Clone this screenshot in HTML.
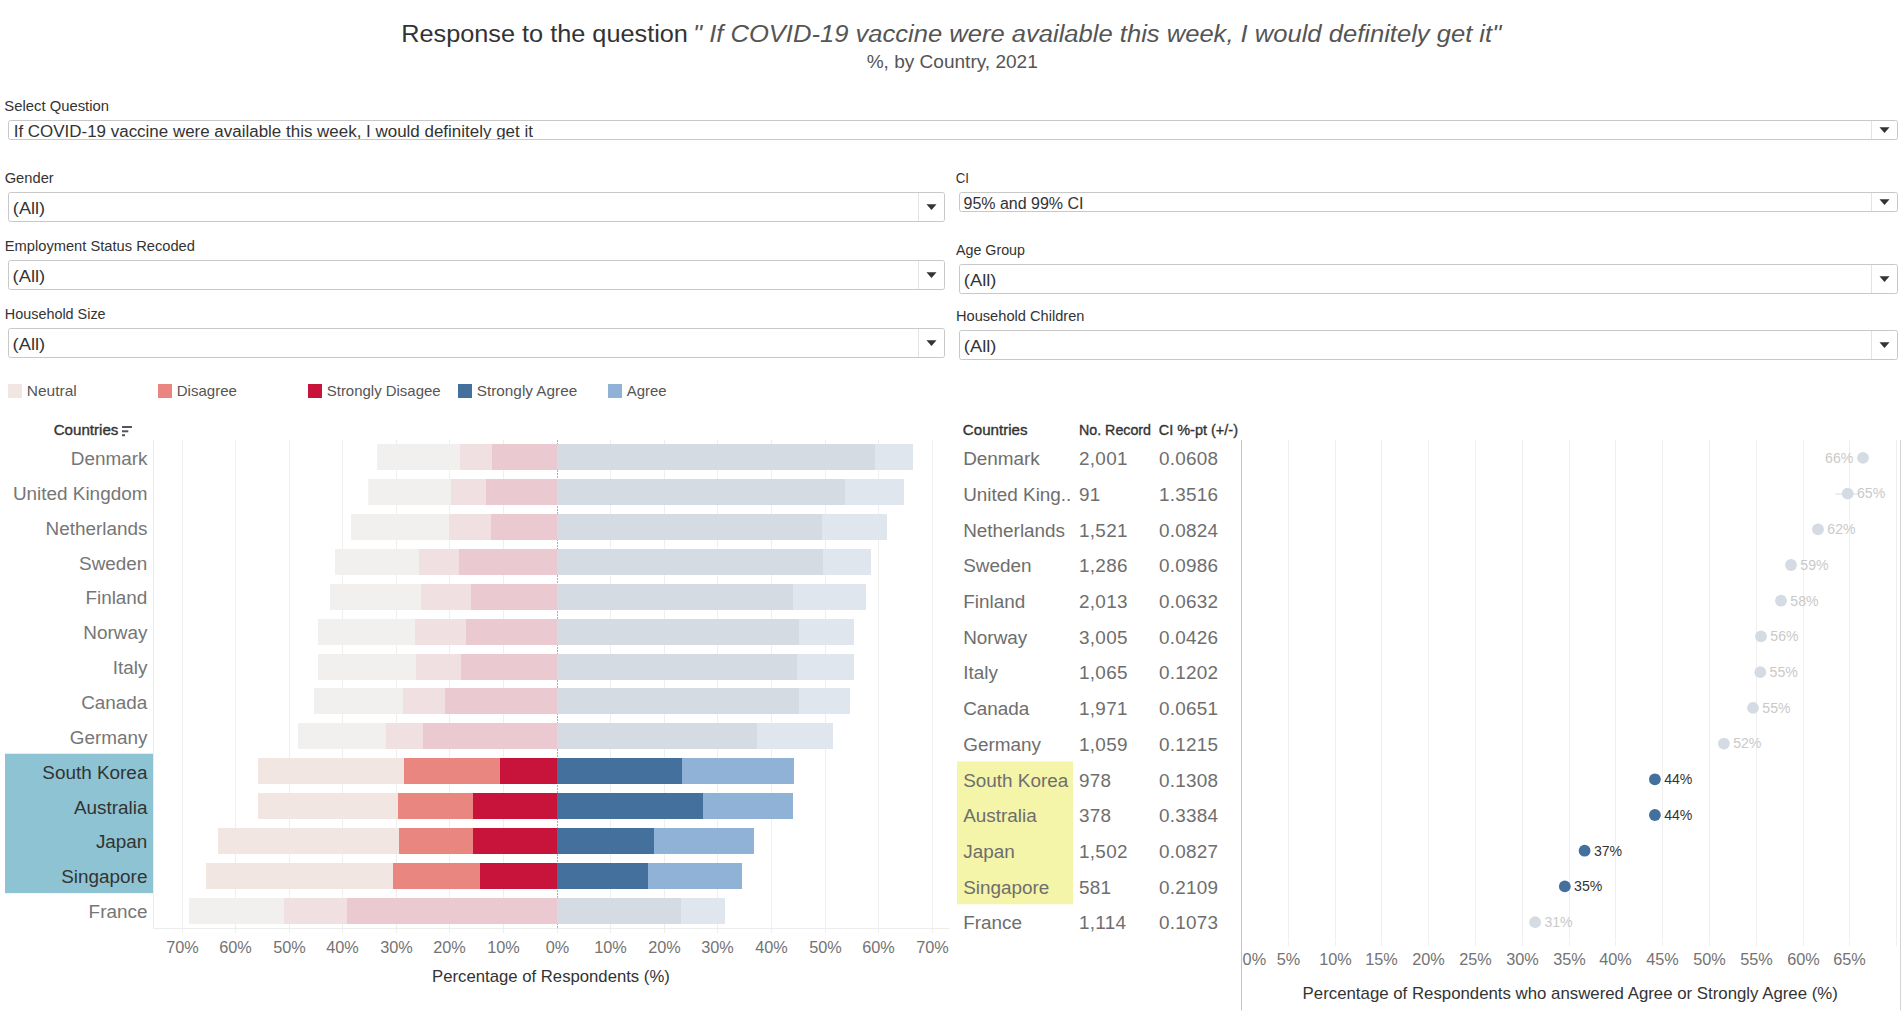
<!DOCTYPE html>
<html><head><meta charset="utf-8"><title>Response to the question</title>
<style>
html,body{margin:0;padding:0;background:#fff;width:1903px;height:1018px;overflow:hidden;}
svg{display:block;font-family:"Liberation Sans",sans-serif;}
</style></head><body>
<svg width="1903" height="1018" viewBox="0 0 1903 1018" shape-rendering="auto">
<text x="401.26" y="42.00" font-size="24.8" fill="#333333" textLength="286.67" lengthAdjust="spacingAndGlyphs">Response to the question</text>
<text x="692.96" y="42.00" font-size="24.8" fill="#555555" textLength="808.27" lengthAdjust="spacingAndGlyphs" font-style="italic">" If COVID-19 vaccine were available this week, I would definitely get it"</text>
<text x="866.70" y="67.50" font-size="18.6" fill="#555555" textLength="171.10" lengthAdjust="spacingAndGlyphs">%, by Country, 2021</text>
<text x="4.39" y="110.80" font-size="14.4" fill="#333333" textLength="104.62" lengthAdjust="spacingAndGlyphs">Select Question</text>
<rect x="8.5" y="120.5" width="1889" height="19" rx="2" ry="2" fill="#fff" stroke="#c8c8c8" stroke-width="1"/>
<line x1="1871.50" y1="121.00" x2="1871.50" y2="139.00" stroke="#e3e3e3" stroke-width="1" />
<path d="M1879.50 127.20 L1889.50 127.20 L1884.50 132.90 Z" fill="#333"/>
<clipPath id="c1"><rect x="9" y="121" width="1860" height="18"/></clipPath>
<g clip-path="url(#c1)">
<text x="13.69" y="136.75" font-size="15.8" fill="#333333" textLength="519.21" lengthAdjust="spacingAndGlyphs">If COVID-19 vaccine were available this week, I would definitely get it</text>
</g>
<text x="4.69" y="183.00" font-size="14.4" fill="#333333" textLength="49.02" lengthAdjust="spacingAndGlyphs">Gender</text>
<rect x="8.5" y="192.5" width="936" height="29" rx="2" ry="2" fill="#fff" stroke="#c8c8c8" stroke-width="1"/>
<line x1="918.50" y1="193.00" x2="918.50" y2="221.00" stroke="#e3e3e3" stroke-width="1" />
<path d="M926.50 204.20 L936.50 204.20 L931.50 209.90 Z" fill="#333"/>
<text x="12.89" y="214.00" font-size="15.8" fill="#333333" textLength="32.21" lengthAdjust="spacingAndGlyphs">(All)</text>
<text x="4.79" y="251.00" font-size="14.4" fill="#333333" textLength="190.12" lengthAdjust="spacingAndGlyphs">Employment Status Recoded</text>
<rect x="8.5" y="260.5" width="936" height="29" rx="2" ry="2" fill="#fff" stroke="#c8c8c8" stroke-width="1"/>
<line x1="918.50" y1="261.00" x2="918.50" y2="289.00" stroke="#e3e3e3" stroke-width="1" />
<path d="M926.50 272.20 L936.50 272.20 L931.50 277.90 Z" fill="#333"/>
<text x="12.59" y="282.00" font-size="15.8" fill="#333333" textLength="32.61" lengthAdjust="spacingAndGlyphs">(All)</text>
<text x="4.79" y="318.70" font-size="14.4" fill="#333333" textLength="100.82" lengthAdjust="spacingAndGlyphs">Household Size</text>
<rect x="8.5" y="328.5" width="936" height="29" rx="2" ry="2" fill="#fff" stroke="#c8c8c8" stroke-width="1"/>
<line x1="918.50" y1="329.00" x2="918.50" y2="357.00" stroke="#e3e3e3" stroke-width="1" />
<path d="M926.50 340.20 L936.50 340.20 L931.50 345.90 Z" fill="#333"/>
<text x="12.59" y="350.00" font-size="15.8" fill="#333333" textLength="32.61" lengthAdjust="spacingAndGlyphs">(All)</text>
<text x="955.69" y="182.80" font-size="14.4" fill="#333333" textLength="13.32" lengthAdjust="spacingAndGlyphs">CI</text>
<rect x="959.5" y="192.5" width="938" height="19" rx="2" ry="2" fill="#fff" stroke="#c8c8c8" stroke-width="1"/>
<line x1="1871.50" y1="193.00" x2="1871.50" y2="211.00" stroke="#e3e3e3" stroke-width="1" />
<path d="M1879.50 199.20 L1889.50 199.20 L1884.50 204.90 Z" fill="#333"/>
<text x="963.49" y="208.60" font-size="15.8" fill="#333333" textLength="120.01" lengthAdjust="spacingAndGlyphs">95% and 99% CI</text>
<text x="955.99" y="254.80" font-size="14.4" fill="#333333" textLength="69.02" lengthAdjust="spacingAndGlyphs">Age Group</text>
<rect x="959.5" y="264.5" width="938" height="29" rx="2" ry="2" fill="#fff" stroke="#c8c8c8" stroke-width="1"/>
<line x1="1871.50" y1="265.00" x2="1871.50" y2="293.00" stroke="#e3e3e3" stroke-width="1" />
<path d="M1879.50 276.20 L1889.50 276.20 L1884.50 281.90 Z" fill="#333"/>
<text x="963.89" y="286.00" font-size="15.8" fill="#333333" textLength="32.51" lengthAdjust="spacingAndGlyphs">(All)</text>
<text x="955.99" y="320.60" font-size="14.4" fill="#333333" textLength="128.42" lengthAdjust="spacingAndGlyphs">Household Children</text>
<rect x="959.5" y="330.5" width="938" height="29" rx="2" ry="2" fill="#fff" stroke="#c8c8c8" stroke-width="1"/>
<line x1="1871.50" y1="331.00" x2="1871.50" y2="359.00" stroke="#e3e3e3" stroke-width="1" />
<path d="M1879.50 342.20 L1889.50 342.20 L1884.50 347.90 Z" fill="#333"/>
<text x="963.89" y="352.00" font-size="15.8" fill="#333333" textLength="32.51" lengthAdjust="spacingAndGlyphs">(All)</text>
<rect x="8.00" y="384.00" width="14.00" height="14.00" fill="#F1E6E2" />
<text x="26.78" y="396.00" font-size="14.6" fill="#555555" textLength="50.04" lengthAdjust="spacingAndGlyphs">Neutral</text>
<rect x="158.00" y="384.00" width="14.00" height="14.00" fill="#EA8680" />
<text x="176.78" y="396.00" font-size="14.6" fill="#555555" textLength="60.14" lengthAdjust="spacingAndGlyphs">Disagree</text>
<rect x="308.00" y="384.00" width="14.00" height="14.00" fill="#C8133A" />
<text x="326.78" y="396.00" font-size="14.6" fill="#555555" textLength="113.84" lengthAdjust="spacingAndGlyphs">Strongly Disagee</text>
<rect x="458.00" y="384.00" width="14.00" height="14.00" fill="#44709D" />
<text x="476.78" y="396.00" font-size="14.6" fill="#555555" textLength="100.44" lengthAdjust="spacingAndGlyphs">Strongly Agree</text>
<rect x="608.00" y="384.00" width="14.00" height="14.00" fill="#90B2D7" />
<text x="626.78" y="396.00" font-size="14.6" fill="#555555" textLength="39.84" lengthAdjust="spacingAndGlyphs">Agree</text>
<rect x="5.00" y="753.71" width="148.00" height="139.43" fill="#8DC3D2" />
<text x="53.68" y="435.20" font-size="14.6" fill="#333" stroke="#333" stroke-width="0.35" textLength="64.74" lengthAdjust="spacingAndGlyphs">Countries</text>
<rect x="122.00" y="426.00" width="10.00" height="2.00" fill="#555" />
<rect x="122.00" y="430.30" width="6.30" height="2.00" fill="#555" />
<rect x="122.00" y="434.20" width="3.00" height="2.00" fill="#555" />
<line x1="153.50" y1="440.00" x2="153.50" y2="928.00" stroke="#ececec" stroke-width="1" />
<line x1="182.50" y1="440.00" x2="182.50" y2="928.00" stroke="#efefef" stroke-width="1" />
<line x1="182.50" y1="928.00" x2="182.50" y2="933.00" stroke="#efefef" stroke-width="1" />
<line x1="235.50" y1="440.00" x2="235.50" y2="928.00" stroke="#efefef" stroke-width="1" />
<line x1="235.50" y1="928.00" x2="235.50" y2="933.00" stroke="#efefef" stroke-width="1" />
<line x1="289.50" y1="440.00" x2="289.50" y2="928.00" stroke="#efefef" stroke-width="1" />
<line x1="289.50" y1="928.00" x2="289.50" y2="933.00" stroke="#efefef" stroke-width="1" />
<line x1="342.50" y1="440.00" x2="342.50" y2="928.00" stroke="#efefef" stroke-width="1" />
<line x1="342.50" y1="928.00" x2="342.50" y2="933.00" stroke="#efefef" stroke-width="1" />
<line x1="396.50" y1="440.00" x2="396.50" y2="928.00" stroke="#efefef" stroke-width="1" />
<line x1="396.50" y1="928.00" x2="396.50" y2="933.00" stroke="#efefef" stroke-width="1" />
<line x1="449.50" y1="440.00" x2="449.50" y2="928.00" stroke="#efefef" stroke-width="1" />
<line x1="449.50" y1="928.00" x2="449.50" y2="933.00" stroke="#efefef" stroke-width="1" />
<line x1="503.50" y1="440.00" x2="503.50" y2="928.00" stroke="#efefef" stroke-width="1" />
<line x1="503.50" y1="928.00" x2="503.50" y2="933.00" stroke="#efefef" stroke-width="1" />
<line x1="557.50" y1="928.00" x2="557.50" y2="933.00" stroke="#efefef" stroke-width="1" />
<line x1="610.50" y1="440.00" x2="610.50" y2="928.00" stroke="#efefef" stroke-width="1" />
<line x1="610.50" y1="928.00" x2="610.50" y2="933.00" stroke="#efefef" stroke-width="1" />
<line x1="664.50" y1="440.00" x2="664.50" y2="928.00" stroke="#efefef" stroke-width="1" />
<line x1="664.50" y1="928.00" x2="664.50" y2="933.00" stroke="#efefef" stroke-width="1" />
<line x1="717.50" y1="440.00" x2="717.50" y2="928.00" stroke="#efefef" stroke-width="1" />
<line x1="717.50" y1="928.00" x2="717.50" y2="933.00" stroke="#efefef" stroke-width="1" />
<line x1="771.50" y1="440.00" x2="771.50" y2="928.00" stroke="#efefef" stroke-width="1" />
<line x1="771.50" y1="928.00" x2="771.50" y2="933.00" stroke="#efefef" stroke-width="1" />
<line x1="825.50" y1="440.00" x2="825.50" y2="928.00" stroke="#efefef" stroke-width="1" />
<line x1="825.50" y1="928.00" x2="825.50" y2="933.00" stroke="#efefef" stroke-width="1" />
<line x1="878.50" y1="440.00" x2="878.50" y2="928.00" stroke="#efefef" stroke-width="1" />
<line x1="878.50" y1="928.00" x2="878.50" y2="933.00" stroke="#efefef" stroke-width="1" />
<line x1="932.50" y1="440.00" x2="932.50" y2="928.00" stroke="#efefef" stroke-width="1" />
<line x1="932.50" y1="928.00" x2="932.50" y2="933.00" stroke="#efefef" stroke-width="1" />
<line x1="153.00" y1="928.50" x2="949.00" y2="928.50" stroke="#ececec" stroke-width="1" />
<line x1="557.50" y1="440.00" x2="557.50" y2="928.00" stroke="#b0b0b0" stroke-width="1" stroke-dasharray="2 1"/>
<rect x="377.10" y="444.00" width="82.70" height="26.00" fill="#F1F0EF" />
<rect x="459.80" y="444.00" width="32.20" height="26.00" fill="#F0E0E1" />
<rect x="492.00" y="444.00" width="65.00" height="26.00" fill="#EACAD0" />
<rect x="557.00" y="444.00" width="318.00" height="26.00" fill="#D4DBE3" />
<rect x="875.00" y="444.00" width="38.00" height="26.00" fill="#E0E6EE" />
<text x="147.40" y="465.03" font-size="18.9" fill="#767676" text-anchor="end">Denmark</text>
<rect x="368.20" y="479.00" width="82.80" height="26.00" fill="#F1F0EF" />
<rect x="451.00" y="479.00" width="35.00" height="26.00" fill="#F0E0E1" />
<rect x="486.00" y="479.00" width="71.00" height="26.00" fill="#EACAD0" />
<rect x="557.00" y="479.00" width="288.00" height="26.00" fill="#D4DBE3" />
<rect x="845.00" y="479.00" width="59.00" height="26.00" fill="#E0E6EE" />
<text x="147.40" y="499.89" font-size="18.9" fill="#767676" text-anchor="end">United Kingdom</text>
<rect x="351.00" y="514.00" width="98.00" height="26.00" fill="#F1F0EF" />
<rect x="449.00" y="514.00" width="42.00" height="26.00" fill="#F0E0E1" />
<rect x="491.00" y="514.00" width="66.00" height="26.00" fill="#EACAD0" />
<rect x="557.00" y="514.00" width="265.00" height="26.00" fill="#D4DBE3" />
<rect x="822.00" y="514.00" width="65.00" height="26.00" fill="#E0E6EE" />
<text x="147.40" y="534.74" font-size="18.9" fill="#767676" text-anchor="end">Netherlands</text>
<rect x="335.00" y="549.00" width="84.00" height="26.00" fill="#F1F0EF" />
<rect x="419.00" y="549.00" width="40.00" height="26.00" fill="#F0E0E1" />
<rect x="459.00" y="549.00" width="98.00" height="26.00" fill="#EACAD0" />
<rect x="557.00" y="549.00" width="266.00" height="26.00" fill="#D4DBE3" />
<rect x="823.00" y="549.00" width="48.00" height="26.00" fill="#E0E6EE" />
<text x="147.40" y="569.60" font-size="18.9" fill="#767676" text-anchor="end">Sweden</text>
<rect x="330.00" y="584.00" width="91.00" height="26.00" fill="#F1F0EF" />
<rect x="421.00" y="584.00" width="50.00" height="26.00" fill="#F0E0E1" />
<rect x="471.00" y="584.00" width="86.00" height="26.00" fill="#EACAD0" />
<rect x="557.00" y="584.00" width="236.00" height="26.00" fill="#D4DBE3" />
<rect x="793.00" y="584.00" width="73.00" height="26.00" fill="#E0E6EE" />
<text x="147.40" y="604.46" font-size="18.9" fill="#767676" text-anchor="end">Finland</text>
<rect x="318.00" y="619.00" width="97.00" height="26.00" fill="#F1F0EF" />
<rect x="415.00" y="619.00" width="51.00" height="26.00" fill="#F0E0E1" />
<rect x="466.00" y="619.00" width="91.00" height="26.00" fill="#EACAD0" />
<rect x="557.00" y="619.00" width="242.00" height="26.00" fill="#D4DBE3" />
<rect x="799.00" y="619.00" width="55.00" height="26.00" fill="#E0E6EE" />
<text x="147.40" y="639.31" font-size="18.9" fill="#767676" text-anchor="end">Norway</text>
<rect x="318.00" y="654.00" width="98.00" height="26.00" fill="#F1F0EF" />
<rect x="416.00" y="654.00" width="45.00" height="26.00" fill="#F0E0E1" />
<rect x="461.00" y="654.00" width="96.00" height="26.00" fill="#EACAD0" />
<rect x="557.00" y="654.00" width="240.00" height="26.00" fill="#D4DBE3" />
<rect x="797.00" y="654.00" width="57.00" height="26.00" fill="#E0E6EE" />
<text x="147.40" y="674.17" font-size="18.9" fill="#767676" text-anchor="end">Italy</text>
<rect x="314.00" y="688.00" width="89.00" height="26.00" fill="#F1F0EF" />
<rect x="403.00" y="688.00" width="42.00" height="26.00" fill="#F0E0E1" />
<rect x="445.00" y="688.00" width="112.00" height="26.00" fill="#EACAD0" />
<rect x="557.00" y="688.00" width="242.00" height="26.00" fill="#D4DBE3" />
<rect x="799.00" y="688.00" width="51.00" height="26.00" fill="#E0E6EE" />
<text x="147.40" y="709.03" font-size="18.9" fill="#767676" text-anchor="end">Canada</text>
<rect x="298.00" y="723.00" width="88.00" height="26.00" fill="#F1F0EF" />
<rect x="386.00" y="723.00" width="37.00" height="26.00" fill="#F0E0E1" />
<rect x="423.00" y="723.00" width="134.00" height="26.00" fill="#EACAD0" />
<rect x="557.00" y="723.00" width="200.00" height="26.00" fill="#D4DBE3" />
<rect x="757.00" y="723.00" width="76.00" height="26.00" fill="#E0E6EE" />
<text x="147.40" y="743.89" font-size="18.9" fill="#767676" text-anchor="end">Germany</text>
<rect x="258.00" y="758.00" width="146.00" height="26.00" fill="#F1E6E2" />
<rect x="404.00" y="758.00" width="96.00" height="26.00" fill="#EA8680" />
<rect x="500.00" y="758.00" width="57.00" height="26.00" fill="#C8133A" />
<rect x="557.00" y="758.00" width="125.00" height="26.00" fill="#44709D" />
<rect x="682.00" y="758.00" width="112.00" height="26.00" fill="#90B2D7" />
<text x="147.40" y="778.74" font-size="18.9" fill="#333333" text-anchor="end">South Korea</text>
<rect x="258.00" y="793.00" width="140.00" height="26.00" fill="#F1E6E2" />
<rect x="398.00" y="793.00" width="75.00" height="26.00" fill="#EA8680" />
<rect x="473.00" y="793.00" width="84.00" height="26.00" fill="#C8133A" />
<rect x="557.00" y="793.00" width="146.00" height="26.00" fill="#44709D" />
<rect x="703.00" y="793.00" width="90.00" height="26.00" fill="#90B2D7" />
<text x="147.40" y="813.60" font-size="18.9" fill="#333333" text-anchor="end">Australia</text>
<rect x="218.00" y="828.00" width="181.00" height="26.00" fill="#F1E6E2" />
<rect x="399.00" y="828.00" width="74.00" height="26.00" fill="#EA8680" />
<rect x="473.00" y="828.00" width="84.00" height="26.00" fill="#C8133A" />
<rect x="557.00" y="828.00" width="97.00" height="26.00" fill="#44709D" />
<rect x="654.00" y="828.00" width="100.00" height="26.00" fill="#90B2D7" />
<text x="147.40" y="848.46" font-size="18.9" fill="#333333" text-anchor="end">Japan</text>
<rect x="206.00" y="863.00" width="187.00" height="26.00" fill="#F1E6E2" />
<rect x="393.00" y="863.00" width="87.00" height="26.00" fill="#EA8680" />
<rect x="480.00" y="863.00" width="77.00" height="26.00" fill="#C8133A" />
<rect x="557.00" y="863.00" width="91.00" height="26.00" fill="#44709D" />
<rect x="648.00" y="863.00" width="94.00" height="26.00" fill="#90B2D7" />
<text x="147.40" y="883.31" font-size="18.9" fill="#333333" text-anchor="end">Singapore</text>
<rect x="189.00" y="898.00" width="95.00" height="26.00" fill="#F1F0EF" />
<rect x="284.00" y="898.00" width="63.00" height="26.00" fill="#F0E0E1" />
<rect x="347.00" y="898.00" width="210.00" height="26.00" fill="#EACAD0" />
<rect x="557.00" y="898.00" width="124.00" height="26.00" fill="#D4DBE3" />
<rect x="681.00" y="898.00" width="44.00" height="26.00" fill="#E0E6EE" />
<text x="147.40" y="918.17" font-size="18.9" fill="#767676" text-anchor="end">France</text>
<text x="182.50" y="953.00" font-size="16.3" fill="#737373" text-anchor="middle">70%</text>
<text x="235.50" y="953.00" font-size="16.3" fill="#737373" text-anchor="middle">60%</text>
<text x="289.50" y="953.00" font-size="16.3" fill="#737373" text-anchor="middle">50%</text>
<text x="342.50" y="953.00" font-size="16.3" fill="#737373" text-anchor="middle">40%</text>
<text x="396.50" y="953.00" font-size="16.3" fill="#737373" text-anchor="middle">30%</text>
<text x="449.50" y="953.00" font-size="16.3" fill="#737373" text-anchor="middle">20%</text>
<text x="503.50" y="953.00" font-size="16.3" fill="#737373" text-anchor="middle">10%</text>
<text x="557.50" y="953.00" font-size="16.3" fill="#737373" text-anchor="middle">0%</text>
<text x="610.50" y="953.00" font-size="16.3" fill="#737373" text-anchor="middle">10%</text>
<text x="664.50" y="953.00" font-size="16.3" fill="#737373" text-anchor="middle">20%</text>
<text x="717.50" y="953.00" font-size="16.3" fill="#737373" text-anchor="middle">30%</text>
<text x="771.50" y="953.00" font-size="16.3" fill="#737373" text-anchor="middle">40%</text>
<text x="825.50" y="953.00" font-size="16.3" fill="#737373" text-anchor="middle">50%</text>
<text x="878.50" y="953.00" font-size="16.3" fill="#737373" text-anchor="middle">60%</text>
<text x="932.50" y="953.00" font-size="16.3" fill="#737373" text-anchor="middle">70%</text>
<text x="432.14" y="982.00" font-size="16.6" fill="#333333" textLength="237.72" lengthAdjust="spacingAndGlyphs">Percentage of Respondents (%)</text>
<text x="962.88" y="434.70" font-size="14.6" fill="#333" stroke="#333" stroke-width="0.35" textLength="64.64" lengthAdjust="spacingAndGlyphs">Countries</text>
<text x="1078.98" y="434.70" font-size="14.6" fill="#333" stroke="#333" stroke-width="0.35" textLength="72.04" lengthAdjust="spacingAndGlyphs">No. Record</text>
<text x="1158.68" y="434.70" font-size="14.6" fill="#333" stroke="#333" stroke-width="0.35" textLength="79.34" lengthAdjust="spacingAndGlyphs">CI %-pt (+/-)</text>
<rect x="957.00" y="761.43" width="116.00" height="142.86" fill="#F5F5A9" />
<text x="963.20" y="465.10" font-size="18.9" fill="#6e6e6e">Denmark</text>
<text x="1079.00" y="465.10" font-size="18.9" fill="#6e6e6e" letter-spacing="0.3">2,001</text>
<text x="1159.10" y="465.10" font-size="18.9" fill="#6e6e6e" letter-spacing="0.25">0.0608</text>
<text x="963.20" y="500.81" font-size="18.9" fill="#6e6e6e">United King..</text>
<text x="1079.00" y="500.81" font-size="18.9" fill="#6e6e6e" letter-spacing="0.3">91</text>
<text x="1159.10" y="500.81" font-size="18.9" fill="#6e6e6e" letter-spacing="0.25">1.3516</text>
<text x="963.20" y="536.53" font-size="18.9" fill="#6e6e6e">Netherlands</text>
<text x="1079.00" y="536.53" font-size="18.9" fill="#6e6e6e" letter-spacing="0.3">1,521</text>
<text x="1159.10" y="536.53" font-size="18.9" fill="#6e6e6e" letter-spacing="0.25">0.0824</text>
<text x="963.20" y="572.24" font-size="18.9" fill="#6e6e6e">Sweden</text>
<text x="1079.00" y="572.24" font-size="18.9" fill="#6e6e6e" letter-spacing="0.3">1,286</text>
<text x="1159.10" y="572.24" font-size="18.9" fill="#6e6e6e" letter-spacing="0.25">0.0986</text>
<text x="963.20" y="607.96" font-size="18.9" fill="#6e6e6e">Finland</text>
<text x="1079.00" y="607.96" font-size="18.9" fill="#6e6e6e" letter-spacing="0.3">2,013</text>
<text x="1159.10" y="607.96" font-size="18.9" fill="#6e6e6e" letter-spacing="0.25">0.0632</text>
<text x="963.20" y="643.67" font-size="18.9" fill="#6e6e6e">Norway</text>
<text x="1079.00" y="643.67" font-size="18.9" fill="#6e6e6e" letter-spacing="0.3">3,005</text>
<text x="1159.10" y="643.67" font-size="18.9" fill="#6e6e6e" letter-spacing="0.25">0.0426</text>
<text x="963.20" y="679.39" font-size="18.9" fill="#6e6e6e">Italy</text>
<text x="1079.00" y="679.39" font-size="18.9" fill="#6e6e6e" letter-spacing="0.3">1,065</text>
<text x="1159.10" y="679.39" font-size="18.9" fill="#6e6e6e" letter-spacing="0.25">0.1202</text>
<text x="963.20" y="715.10" font-size="18.9" fill="#6e6e6e">Canada</text>
<text x="1079.00" y="715.10" font-size="18.9" fill="#6e6e6e" letter-spacing="0.3">1,971</text>
<text x="1159.10" y="715.10" font-size="18.9" fill="#6e6e6e" letter-spacing="0.25">0.0651</text>
<text x="963.20" y="750.81" font-size="18.9" fill="#6e6e6e">Germany</text>
<text x="1079.00" y="750.81" font-size="18.9" fill="#6e6e6e" letter-spacing="0.3">1,059</text>
<text x="1159.10" y="750.81" font-size="18.9" fill="#6e6e6e" letter-spacing="0.25">0.1215</text>
<text x="963.20" y="786.53" font-size="18.9" fill="#6e6e6e">South Korea</text>
<text x="1079.00" y="786.53" font-size="18.9" fill="#6e6e6e" letter-spacing="0.3">978</text>
<text x="1159.10" y="786.53" font-size="18.9" fill="#6e6e6e" letter-spacing="0.25">0.1308</text>
<text x="963.20" y="822.24" font-size="18.9" fill="#6e6e6e">Australia</text>
<text x="1079.00" y="822.24" font-size="18.9" fill="#6e6e6e" letter-spacing="0.3">378</text>
<text x="1159.10" y="822.24" font-size="18.9" fill="#6e6e6e" letter-spacing="0.25">0.3384</text>
<text x="963.20" y="857.96" font-size="18.9" fill="#6e6e6e">Japan</text>
<text x="1079.00" y="857.96" font-size="18.9" fill="#6e6e6e" letter-spacing="0.3">1,502</text>
<text x="1159.10" y="857.96" font-size="18.9" fill="#6e6e6e" letter-spacing="0.25">0.0827</text>
<text x="963.20" y="893.67" font-size="18.9" fill="#6e6e6e">Singapore</text>
<text x="1079.00" y="893.67" font-size="18.9" fill="#6e6e6e" letter-spacing="0.3">581</text>
<text x="1159.10" y="893.67" font-size="18.9" fill="#6e6e6e" letter-spacing="0.25">0.2109</text>
<text x="963.20" y="929.39" font-size="18.9" fill="#6e6e6e">France</text>
<text x="1079.00" y="929.39" font-size="18.9" fill="#6e6e6e" letter-spacing="0.3">1,114</text>
<text x="1159.10" y="929.39" font-size="18.9" fill="#6e6e6e" letter-spacing="0.25">0.1073</text>
<line x1="1288.50" y1="440.00" x2="1288.50" y2="940.00" stroke="#efefef" stroke-width="1" />
<line x1="1288.50" y1="941.00" x2="1288.50" y2="946.00" stroke="#efefef" stroke-width="1" />
<line x1="1335.50" y1="440.00" x2="1335.50" y2="940.00" stroke="#efefef" stroke-width="1" />
<line x1="1335.50" y1="941.00" x2="1335.50" y2="946.00" stroke="#efefef" stroke-width="1" />
<line x1="1381.50" y1="440.00" x2="1381.50" y2="940.00" stroke="#efefef" stroke-width="1" />
<line x1="1381.50" y1="941.00" x2="1381.50" y2="946.00" stroke="#efefef" stroke-width="1" />
<line x1="1428.50" y1="440.00" x2="1428.50" y2="940.00" stroke="#efefef" stroke-width="1" />
<line x1="1428.50" y1="941.00" x2="1428.50" y2="946.00" stroke="#efefef" stroke-width="1" />
<line x1="1475.50" y1="440.00" x2="1475.50" y2="940.00" stroke="#efefef" stroke-width="1" />
<line x1="1475.50" y1="941.00" x2="1475.50" y2="946.00" stroke="#efefef" stroke-width="1" />
<line x1="1522.50" y1="440.00" x2="1522.50" y2="940.00" stroke="#efefef" stroke-width="1" />
<line x1="1522.50" y1="941.00" x2="1522.50" y2="946.00" stroke="#efefef" stroke-width="1" />
<line x1="1569.50" y1="440.00" x2="1569.50" y2="940.00" stroke="#efefef" stroke-width="1" />
<line x1="1569.50" y1="941.00" x2="1569.50" y2="946.00" stroke="#efefef" stroke-width="1" />
<line x1="1615.50" y1="440.00" x2="1615.50" y2="940.00" stroke="#efefef" stroke-width="1" />
<line x1="1615.50" y1="941.00" x2="1615.50" y2="946.00" stroke="#efefef" stroke-width="1" />
<line x1="1662.50" y1="440.00" x2="1662.50" y2="940.00" stroke="#efefef" stroke-width="1" />
<line x1="1662.50" y1="941.00" x2="1662.50" y2="946.00" stroke="#efefef" stroke-width="1" />
<line x1="1709.50" y1="440.00" x2="1709.50" y2="940.00" stroke="#efefef" stroke-width="1" />
<line x1="1709.50" y1="941.00" x2="1709.50" y2="946.00" stroke="#efefef" stroke-width="1" />
<line x1="1756.50" y1="440.00" x2="1756.50" y2="940.00" stroke="#efefef" stroke-width="1" />
<line x1="1756.50" y1="941.00" x2="1756.50" y2="946.00" stroke="#efefef" stroke-width="1" />
<line x1="1803.50" y1="440.00" x2="1803.50" y2="940.00" stroke="#efefef" stroke-width="1" />
<line x1="1803.50" y1="941.00" x2="1803.50" y2="946.00" stroke="#efefef" stroke-width="1" />
<line x1="1849.50" y1="440.00" x2="1849.50" y2="940.00" stroke="#efefef" stroke-width="1" />
<line x1="1849.50" y1="941.00" x2="1849.50" y2="946.00" stroke="#efefef" stroke-width="1" />
<line x1="1896.50" y1="440.00" x2="1896.50" y2="940.00" stroke="#efefef" stroke-width="1" />
<line x1="1896.50" y1="941.00" x2="1896.50" y2="946.00" stroke="#efefef" stroke-width="1" />
<line x1="1241.50" y1="440.00" x2="1241.50" y2="1010.50" stroke="#c4c4c4" stroke-width="1" />
<line x1="1900.50" y1="440.00" x2="1900.50" y2="1010.50" stroke="#d4d4d4" stroke-width="1" />
<text x="1242.60" y="965.00" font-size="16.3" fill="#737373">0%</text>
<text x="1288.50" y="965.00" font-size="16.3" fill="#737373" text-anchor="middle">5%</text>
<text x="1335.50" y="965.00" font-size="16.3" fill="#737373" text-anchor="middle">10%</text>
<text x="1381.50" y="965.00" font-size="16.3" fill="#737373" text-anchor="middle">15%</text>
<text x="1428.50" y="965.00" font-size="16.3" fill="#737373" text-anchor="middle">20%</text>
<text x="1475.50" y="965.00" font-size="16.3" fill="#737373" text-anchor="middle">25%</text>
<text x="1522.50" y="965.00" font-size="16.3" fill="#737373" text-anchor="middle">30%</text>
<text x="1569.50" y="965.00" font-size="16.3" fill="#737373" text-anchor="middle">35%</text>
<text x="1615.50" y="965.00" font-size="16.3" fill="#737373" text-anchor="middle">40%</text>
<text x="1662.50" y="965.00" font-size="16.3" fill="#737373" text-anchor="middle">45%</text>
<text x="1709.50" y="965.00" font-size="16.3" fill="#737373" text-anchor="middle">50%</text>
<text x="1756.50" y="965.00" font-size="16.3" fill="#737373" text-anchor="middle">55%</text>
<text x="1803.50" y="965.00" font-size="16.3" fill="#737373" text-anchor="middle">60%</text>
<text x="1849.50" y="965.00" font-size="16.3" fill="#737373" text-anchor="middle">65%</text>
<text x="1302.64" y="999.00" font-size="16.6" fill="#333333" textLength="535.22" lengthAdjust="spacingAndGlyphs">Percentage of Respondents who answered Agree or Strongly Agree (%)</text>
<circle cx="1863.00" cy="457.86" r="5.9" fill="#D4DBE3"/>
<text x="1853.30" y="462.66" font-size="14.1" fill="#c9c9c9" text-anchor="end">66%</text>
<line x1="1835.30" y1="494.07" x2="1858.30" y2="494.07" stroke="#dde2e8" stroke-width="1.2" />
<circle cx="1847.70" cy="493.57" r="5.9" fill="#D4DBE3"/>
<text x="1857.00" y="498.37" font-size="14.1" fill="#c9c9c9">65%</text>
<circle cx="1818.00" cy="529.29" r="5.9" fill="#D4DBE3"/>
<text x="1827.30" y="534.09" font-size="14.1" fill="#c9c9c9">62%</text>
<circle cx="1791.00" cy="565.00" r="5.9" fill="#D4DBE3"/>
<text x="1800.30" y="569.80" font-size="14.1" fill="#c9c9c9">59%</text>
<circle cx="1781.00" cy="600.71" r="5.9" fill="#D4DBE3"/>
<text x="1790.30" y="605.51" font-size="14.1" fill="#c9c9c9">58%</text>
<circle cx="1761.00" cy="636.43" r="5.9" fill="#D4DBE3"/>
<text x="1770.30" y="641.23" font-size="14.1" fill="#c9c9c9">56%</text>
<circle cx="1760.30" cy="672.14" r="5.9" fill="#D4DBE3"/>
<text x="1769.60" y="676.94" font-size="14.1" fill="#c9c9c9">55%</text>
<circle cx="1753.00" cy="707.86" r="5.9" fill="#D4DBE3"/>
<text x="1762.30" y="712.66" font-size="14.1" fill="#c9c9c9">55%</text>
<circle cx="1723.90" cy="743.57" r="5.9" fill="#D4DBE3"/>
<text x="1733.20" y="748.37" font-size="14.1" fill="#c9c9c9">52%</text>
<circle cx="1654.90" cy="779.29" r="5.9" fill="#44709D"/>
<text x="1664.20" y="784.09" font-size="14.1" fill="#333333">44%</text>
<circle cx="1654.90" cy="815.00" r="5.9" fill="#44709D"/>
<text x="1664.20" y="819.80" font-size="14.1" fill="#333333">44%</text>
<circle cx="1584.60" cy="850.71" r="5.9" fill="#44709D"/>
<text x="1593.90" y="855.51" font-size="14.1" fill="#333333">37%</text>
<circle cx="1564.80" cy="886.43" r="5.9" fill="#44709D"/>
<text x="1574.10" y="891.23" font-size="14.1" fill="#333333">35%</text>
<circle cx="1535.10" cy="922.14" r="5.9" fill="#D4DBE3"/>
<text x="1544.40" y="926.94" font-size="14.1" fill="#c9c9c9">31%</text>
</svg>
</body></html>
